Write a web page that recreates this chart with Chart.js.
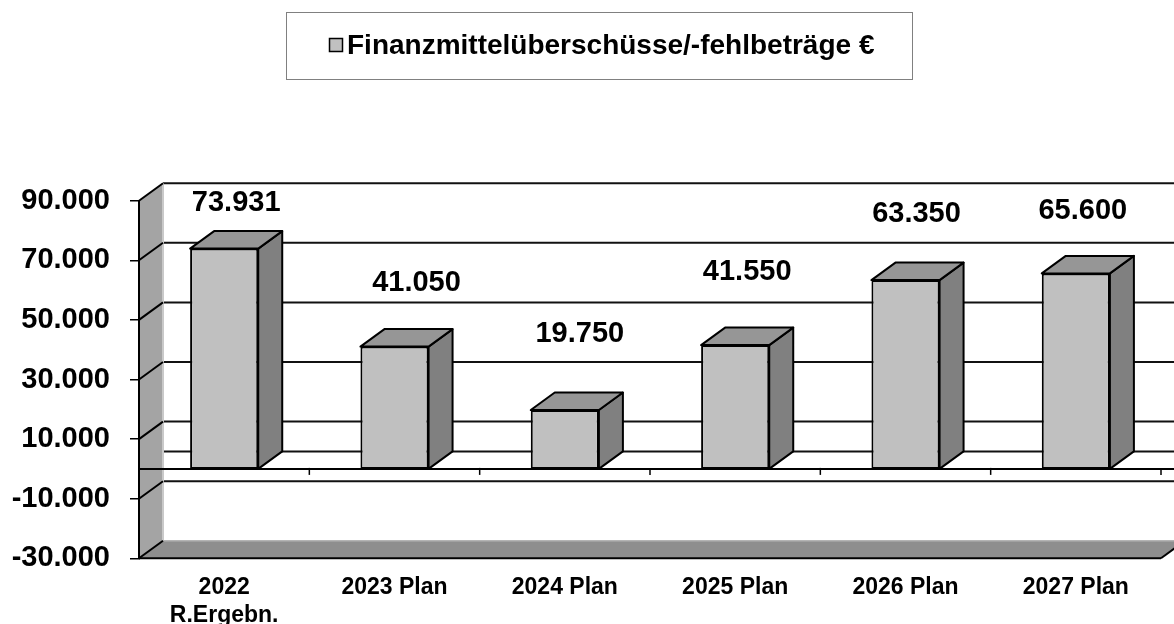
<!DOCTYPE html>
<html>
<head>
<meta charset="utf-8">
<title>Finanzmittelüberschüsse/-fehlbeträge</title>
<script src="https://cdn.jsdelivr.net/npm/chart.js@4.4.1/dist/chart.umd.min.js"></script>
<style>
html, body { margin: 0; padding: 0; background: #fff; }
#wrap { width: 1174px; height: 624px; }
</style>
</head>
<body>
<div id="wrap"><canvas id="chart_finanzmittel"></canvas></div>
<script>
// data
var categories = [['2022', 'R.Ergebn.'], '2023 Plan', '2024 Plan', '2025 Plan', '2026 Plan', '2027 Plan'];
var seriesLabel = 'Finanzmittelüberschüsse/-fehlbeträge €';
var seriesValues = [73931, 41050, 19750, 41550, 63350, 65600];
var yTicks = [-30000, -10000, 10000, 30000, 50000, 70000, 90000];

// where each value label sits relative to its bar (px)
var labelDx = [12, 22, 15, 12, 11, 7];
var labelDy = [46, 64, 76, 73, 66, 62];

var DEPTH_X = 24, DEPTH_Y = -17.5;
var FONT = '"Liberation Sans", Arial, Helvetica, sans-serif';

function fmt(v) {
    var s = String(Math.abs(Math.round(v))).replace(/\B(?=(\d{3})+(?!\d))/g, '.');
    return (v < 0 ? '-' : '') + s;
}

function poly(ctx, pts, fill, stroke, lw) {
    ctx.beginPath();
    ctx.moveTo(pts[0][0], pts[0][1]);
    for (var i = 1; i < pts.length; i++) ctx.lineTo(pts[i][0], pts[i][1]);
    ctx.closePath();
    if (fill) { ctx.fillStyle = fill; ctx.fill(); }
    if (stroke) { ctx.strokeStyle = stroke; ctx.lineWidth = lw || 2; ctx.stroke(); }
}

function line(ctx, x1, y1, x2, y2, color, lw) {
    ctx.beginPath();
    ctx.moveTo(x1, y1);
    ctx.lineTo(x2, y2);
    ctx.strokeStyle = color;
    ctx.lineWidth = lw;
    ctx.stroke();
}

var box3d = {
    id: 'box3d',
    beforeDraw: function (chart) {
        var ctx = chart.ctx, a = chart.chartArea, ys = chart.scales.y;
        var L = a.left, R = a.right;
        var W = chart.width;
        ctx.save();
        ctx.fillStyle = 'white';
        ctx.fillRect(0, 0, chart.width, chart.height);
        ctx.lineJoin = 'round';

        var yTop = ys.getPixelForValue(yTicks[yTicks.length - 1]);
        var yBot = ys.getPixelForValue(yTicks[0]);

        // back wall grid lines (+ zero line)
        var backVals = yTicks.slice(1).concat([0]);
        backVals.forEach(function (v) {
            var y = ys.getPixelForValue(v) + DEPTH_Y;
            line(ctx, L + DEPTH_X, y, W + 10, y, '#111', 2);
        });

        // left wall
        poly(ctx, [[L, yTop], [L + DEPTH_X, yTop + DEPTH_Y], [L + DEPTH_X, yBot + DEPTH_Y], [L, yBot]], '#a4a4a4');
        line(ctx, L + DEPTH_X, yTop + DEPTH_Y, L + DEPTH_X, yBot + DEPTH_Y, '#c9c9c9', 2);

        // floor
        poly(ctx, [[L, yBot], [R, yBot], [R + DEPTH_X, yBot + DEPTH_Y], [L + DEPTH_X, yBot + DEPTH_Y]], '#8e8e8e');
        line(ctx, L + DEPTH_X, yBot + DEPTH_Y, W + 10, yBot + DEPTH_Y, '#b4b4b4', 1.5);
        line(ctx, L, yBot, R, yBot, '#000', 2);
        line(ctx, R, yBot, R + DEPTH_X, yBot + DEPTH_Y, '#000', 2);

        // diagonals on the left wall
        yTicks.forEach(function (v) {
            var y = ys.getPixelForValue(v);
            line(ctx, L, y, L + DEPTH_X, y + DEPTH_Y, '#000', 2);
        });

        // category axis at zero on the front plane
        var y0 = ys.getPixelForValue(0);
        line(ctx, L, y0, W + 10, y0, '#000', 2);
        var n = categories.length;
        for (var k = 0; k <= n; k++) {
            var x = L + k * (R - L) / n;
            line(ctx, x, y0 - 1, x, y0 + 6, '#000', 1.5);
        }
        ctx.restore();
    },
    afterDatasetsDraw: function (chart) {
        var ctx = chart.ctx;
        var meta = chart.getDatasetMeta(0);
        ctx.save();
        ctx.lineJoin = 'round';
        meta.data.forEach(function (bar, i) {
            var p = bar.getProps(['x', 'y', 'base', 'width'], true);
            var l = p.x - p.width / 2, r = p.x + p.width / 2;
            var t = Math.min(p.y, p.base), b = Math.max(p.y, p.base);
            // side face
            poly(ctx, [[r, t], [r + DEPTH_X, t + DEPTH_Y], [r + DEPTH_X, b + DEPTH_Y], [r, b]], '#808080', '#000', 2);
            // top face
            poly(ctx, [[l, t], [r, t], [r + DEPTH_X, t + DEPTH_Y], [l + DEPTH_X, t + DEPTH_Y]], '#969696', '#000', 2);
            // value label
            ctx.fillStyle = '#000';
            ctx.font = 'bold 29px ' + FONT;
            ctx.textAlign = 'center';
            ctx.textBaseline = 'middle';
            ctx.fillText(fmt(seriesValues[i]), p.x + labelDx[i], p.y - labelDy[i]);
        });
        ctx.restore();
    },
    afterDraw: function (chart) {
        // boxed legend at the top
        var ctx = chart.ctx;
        ctx.save();
        ctx.fillStyle = '#fff';
        ctx.fillRect(286.5, 12.5, 626, 67);
        ctx.strokeStyle = '#808080';
        ctx.lineWidth = 1;
        ctx.strokeRect(286.5, 12.5, 626, 67);
        ctx.fillStyle = '#c0c0c0';
        ctx.fillRect(329.5, 38.5, 13, 13);
        ctx.strokeStyle = '#000';
        ctx.lineWidth = 1.5;
        ctx.strokeRect(329.5, 38.5, 13, 13);
        ctx.fillStyle = '#000';
        ctx.font = 'bold 28px ' + FONT;
        ctx.textAlign = 'left';
        ctx.textBaseline = 'alphabetic';
        ctx.fillText(chart.data.datasets[0].label, 347, 54);
        ctx.restore();
    }
};

var chart_finanzmittel = new Chart(document.getElementById('chart_finanzmittel'), {
    type: 'bar',
    data: {
        labels: categories,
        datasets: [
            {
                label: seriesLabel,
                data: seriesValues,
                backgroundColor: '#c0c0c0',
                borderColor: '#000',
                borderWidth: 2,
                borderSkipped: false,
                categoryPercentage: 1.0,
                barPercentage: 0.4
            }
        ]
    },
    options: {
        animation: false,
        responsive: true,
        maintainAspectRatio: false,
        layout: {
            padding: { top: 200.7, right: 13, bottom: 0, left: 0 }
        },
        plugins: {
            legend: { display: false },
            title: { display: false },
            tooltip: { enabled: false }
        },
        scales: {
            x: {
                grid: { display: false, drawTicks: false },
                border: { display: false },
                ticks: {
                    color: '#000',
                    font: { family: FONT, size: 23, weight: 'bold' },
                    padding: 15.5,
                    maxRotation: 0,
                    autoSkip: false
                },
                afterFit: function (scale) { scale.height = 65.7; }
            },
            y: {
                min: yTicks[0],
                max: yTicks[yTicks.length - 1],
                afterBuildTicks: function (scale) {
                    scale.ticks = yTicks.map(function (v) { return { value: v }; });
                },
                grid: {
                    drawOnChartArea: false,
                    drawTicks: true,
                    tickLength: 9,
                    color: '#000',
                    lineWidth: 1.5
                },
                border: { display: true, color: '#000', width: 2 },
                ticks: {
                    color: '#000',
                    font: { family: FONT, size: 29, weight: 'bold' },
                    padding: 20,
                    callback: function (v) { return fmt(v); }
                },
                afterFit: function (scale) { scale.width = 139; }
            }
        }
    },
    plugins: [box3d]
});
</script>
</body>
</html>
